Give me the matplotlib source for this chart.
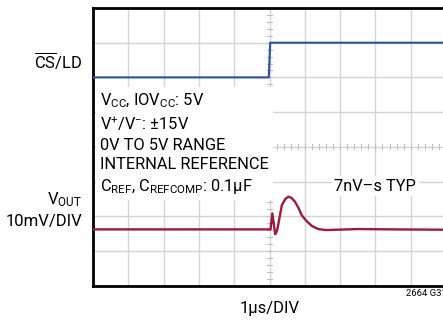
import matplotlib
matplotlib.use("Agg")
import matplotlib.pyplot as plt
import numpy as np
from matplotlib import font_manager

names = set(f.name for f in font_manager.fontManager.ttflist)
fam = "Liberation Sans Narrow" if "Liberation Sans Narrow" in names else "Roboto"
plt.rcParams["font.family"] = [fam, "DejaVu Sans"]
plt.rcParams["mathtext.fontset"] = "custom"
plt.rcParams["mathtext.rm"] = fam
plt.rcParams["mathtext.it"] = fam
plt.rcParams["mathtext.default"] = "rm"

# data in scope divisions: x 0..10 (1us/div), y 0..8
cs_t = [0.0, 4.98, 5.02, 10.0]
cs_v = [6.0, 6.0, 7.0, 7.0]

vout_t = [0.0, 4.9, 5.03, 5.08, 5.12, 5.16, 5.20, 5.23, 5.35, 5.45, 5.53,
          5.62, 5.72, 5.82, 5.91, 6.05, 6.20, 6.38, 6.60, 7.5, 8.5, 10.0]
vout_v = [1.62, 1.62, 1.62, 2.08, 1.80, 1.48, 1.55, 1.66, 2.32, 2.50, 2.56,
          2.53, 2.42, 2.24, 2.03, 1.86, 1.72, 1.63, 1.60, 1.63, 1.62, 1.61]

blue = "#2f4f9f"
red = "#9e1a3c"
grid_c = "#d4d4d4"
fs_in = 11.8
fs_out = 12

fig = plt.figure(figsize=(4.43, 3.2), dpi=100)
ax = fig.add_axes([93 / 443, 1 - 285.6 / 320, 353 / 443, 277.6 / 320])
ax.set_xlim(0, 10)
ax.set_ylim(0, 8)

# graticule
for x in range(1, 10):
    ax.axvline(x, color=grid_c, lw=1, zorder=1)
for y in range(1, 8):
    ax.axhline(y, color=grid_c, lw=1, zorder=1)
for x in np.arange(0.2, 10, 0.2):
    ax.plot([x, x], [3.93, 4.07], color="#c0c0c0", lw=0.8, zorder=1)
for y in np.arange(0.2, 8, 0.2):
    ax.plot([4.93, 5.07], [y, y], color="#c0c0c0", lw=0.8, zorder=1)

ax.plot(cs_t, cs_v, color=blue, lw=1.5, zorder=4)
ax.plot(vout_t, vout_v, color=red, lw=1.7, zorder=4)

ax.set_xticks([])
ax.set_yticks([])
for s in ["left", "top", "bottom"]:
    ax.spines[s].set_linewidth(2)
ax.spines["right"].set_visible(False)

cond = ("V$_{\\rm CC}$, IOV$_{\\rm CC}$: 5V\n"
        "V$^{+}$/V$^{-}$: \u00b115V\n"
        "0V TO 5V RANGE\n"
        "INTERNAL REFERENCE\n"
        "C$_{\\rm REF}$, C$_{\\rm REFCOMP}$: 0.1\u00b5F")
ax.text(0.2, 5.6, cond, fontsize=fs_in, va="top", ha="left", linespacing=1.35,
        bbox=dict(fc="white", ec="none", pad=3), zorder=3)
ax.text(8.0, 2.87, "7nV\u2013s TYP", fontsize=fs_in, ha="center", va="center",
        bbox=dict(fc="white", ec="none", pad=2), zorder=3)

fig.text(82 / 443, 1 - 61 / 320, "$\\overline{\\rm CS}$/LD", fontsize=fs_out,
         ha="right", va="center")
fig.text(82 / 443, 1 - 200 / 320, "V$_{\\rm OUT}$", fontsize=fs_out,
         ha="right", va="center")
fig.text(82 / 443, 1 - 221.5 / 320, "10mV/DIV", fontsize=fs_out,
         ha="right", va="center")
fig.text(270 / 443, 1 - 308 / 320, "1\u00b5s/DIV", fontsize=fs_out,
         ha="center", va="center")
fig.text(406 / 443, 1 - 294 / 320, "2664 G31", fontsize=6.8,
         ha="left", va="center")

fig.savefig("out.png", dpi=100)
